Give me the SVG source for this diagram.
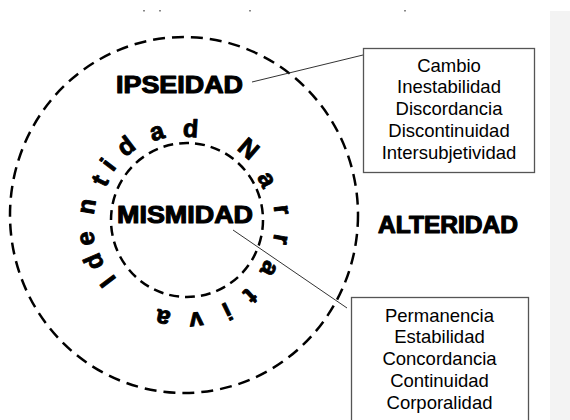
<svg xmlns="http://www.w3.org/2000/svg" width="570" height="420" viewBox="0 0 570 420">
<style>
.ring{fill:none;stroke:#000;stroke-width:2.5;}
.big{font-family:"Liberation Sans",Arial,sans-serif;font-weight:bold;fill:#000;stroke:#000;stroke-width:1.1;stroke-linejoin:round;}
.arc{font-family:"Liberation Sans",Arial,sans-serif;font-weight:bold;font-size:25px;fill:#000;stroke:#000;stroke-width:0.9;stroke-linejoin:round;text-anchor:middle;}
.box{fill:#fff;stroke:#555;stroke-width:1.3;}
.lst{font-family:"Liberation Sans",Arial,sans-serif;font-size:18.5px;fill:#000;text-anchor:middle;}
.conn{stroke:#333;stroke-width:1;fill:none;}
</style>
<rect x="0" y="0" width="570" height="420" fill="#fff"/>
<rect x="550" y="11" width="20" height="409" fill="#f3f3f3"/>
<g fill="#888">
<rect x="143" y="10" width="2" height="1.5"/>
<rect x="159" y="10" width="2" height="1.5"/>
<rect x="249" y="10" width="2" height="1.5"/>
<rect x="404" y="10" width="2" height="1.5"/>
</g>
<g id="ipseidad">
<ellipse class="ring" cx="184" cy="215" rx="174" ry="178" stroke-dasharray="12 7"/>
<text class="big" x="116" y="92.5" font-size="24" textLength="127" lengthAdjust="spacingAndGlyphs">IPSEIDAD</text>
</g>
<g id="mismidad">
<ellipse class="ring" cx="187" cy="220" rx="76" ry="77" stroke-dasharray="10 6"/>
<text class="big" x="117" y="223" font-size="24" textLength="136" lengthAdjust="spacingAndGlyphs">MISMIDAD</text>
</g>
<g id="identidad-narrativa">
<text class="arc" transform="translate(107.5,281.7) rotate(232.7)" y="9">I</text>
<text class="arc" transform="translate(93.3,262) rotate(246.8)" y="9">d</text>
<text class="arc" transform="translate(87.5,238.3) rotate(261)" y="6.5">e</text>
<text class="arc" transform="translate(88.3,206.7) rotate(279.6)" y="6.5">n</text>
<text class="arc" transform="translate(100,180.5) rotate(296.7)" y="8.2">t</text>
<text class="arc" transform="translate(107.7,164.3) rotate(307.4)" y="9">i</text>
<text class="arc" transform="translate(125.7,145.7) rotate(322.7)" y="9">d</text>
<text class="arc" transform="translate(157.3,133.3) rotate(343.1)" y="6.5">a</text>
<text class="arc" transform="translate(190.7,128) rotate(3.7)" y="9">d</text>
<text class="arc" transform="translate(249,148.3) rotate(40.8)" y="9">N</text>
<text class="arc" transform="translate(265.7,180) rotate(62.1)" y="6.5">a</text>
<text class="arc" transform="translate(280.8,210) rotate(82.3)" y="6.5">r</text>
<text class="arc" transform="translate(280,239) rotate(99.5)" y="6.5">r</text>
<text class="arc" transform="translate(268.3,268.3) rotate(118.4)" y="6.5">a</text>
<text class="arc" transform="translate(250.5,295.8) rotate(137.8)" y="8.2">t</text>
<text class="arc" transform="translate(227.5,311.7) rotate(154.1)" y="9">i</text>
<text class="arc" transform="translate(196,319) rotate(173.2)" y="6.5">v</text>
<text class="arc" transform="translate(163.3,316.7) rotate(192.7)" y="6.5">a</text>
</g>
<g id="alteridad">
<text class="big" x="378" y="233" font-size="23" textLength="140" lengthAdjust="spacingAndGlyphs">ALTERIDAD</text>
</g>
<g id="connectors">
<line class="conn" x1="252" y1="82" x2="363" y2="55"/>
<line class="conn" x1="233" y1="230" x2="347" y2="308"/>
</g>
<g id="box-ipseidad">
<rect class="box" x="363.5" y="48.5" width="171" height="124"/>
<text class="lst" x="449" y="71.7">Cambio</text>
<text class="lst" x="449" y="93.4">Inestabilidad</text>
<text class="lst" x="449" y="115.1">Discordancia</text>
<text class="lst" x="449" y="136.8">Discontinuidad</text>
<text class="lst" x="449" y="158.5">Intersubjetividad</text>
</g>
<g id="box-mismidad">
<rect class="box" x="351.5" y="297.5" width="177" height="130"/>
<text class="lst" x="439.5" y="321.5">Permanencia</text>
<text class="lst" x="439.5" y="343.3">Estabilidad</text>
<text class="lst" x="439.5" y="365">Concordancia</text>
<text class="lst" x="439.5" y="386.7">Continuidad</text>
<text class="lst" x="439.5" y="408.5">Corporalidad</text>
</g>
</svg>
